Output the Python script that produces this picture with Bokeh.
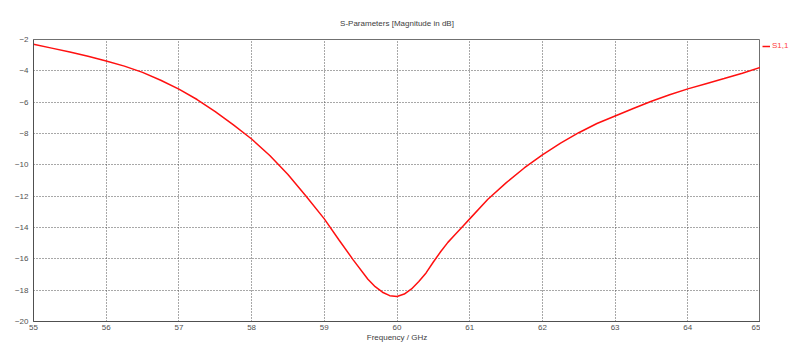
from bokeh.plotting import figure
from bokeh.models import Legend, LegendItem, FixedTicker, Range1d
from bokeh.layouts import row
from bokeh.embed import file_html
from bokeh.resources import INLINE

freq = [55.0, 55.25, 55.5, 55.75, 56.0, 56.25, 56.5, 56.75, 57.0, 57.25, 57.5, 57.75,
        58.0, 58.25, 58.5, 58.75, 59.0, 59.2, 59.4, 59.6, 59.7, 59.8, 59.9, 60.0,
        60.1, 60.2, 60.3, 60.4, 60.5, 60.6, 60.7, 60.8, 60.9, 61.0, 61.25, 61.5,
        61.75, 62.0, 62.25, 62.5, 62.75, 63.0, 63.25, 63.5, 63.75, 64.0, 64.25, 64.5,
        64.75, 65.0]
s11 = [-2.30, -2.55, -2.80, -3.07, -3.37, -3.70, -4.10, -4.60, -5.17, -5.83, -6.60, -7.45,
       -8.35, -9.40, -10.62, -12.00, -13.45, -14.78, -16.08, -17.30, -17.78, -18.13, -18.35, -18.40,
       -18.25, -17.92, -17.45, -16.90, -16.20, -15.55, -14.95, -14.45, -13.95, -13.45, -12.20, -11.15,
       -10.20, -9.36, -8.62, -7.95, -7.36, -6.88, -6.40, -5.94, -5.53, -5.15, -4.82, -4.49,
       -4.15, -3.78]

x_ticks = [55, 56, 57, 58, 59, 60, 61, 62, 63, 64, 65]
y_ticks = [-20, -18, -16, -14, -12, -10, -8, -6, -4, -2]

title_text = "S-Parameters [Magnitude in dB]"
x_label = "Frequency / GHz"
series_name = "S1,1"

FONT = "Liberation Sans"
FS = "8px"
TXT = "#404040"
LINE_COLOR = "#ff1010"

p = figure(width=760, height=344, x_range=(55, 65), y_range=(-20, -2),
           output_backend="svg", toolbar_location=None,
           min_border_left=33, min_border_right=0, min_border_top=39, min_border_bottom=22)
p.background_fill_color = "white"
p.border_fill_color = "white"
p.outline_line_color = "#707070"
p.outline_line_width = 1

p.title.text = title_text
p.title.align = "center"
p.title.text_font = FONT
p.title.text_font_size = FS
p.title.text_font_style = "normal"
p.title.text_color = TXT
p.title.standoff = 24

for ax in (p.xaxis[0], p.yaxis[0]):
    ax.major_tick_out = 0
    ax.major_tick_in = 0
    ax.minor_tick_out = 0
    ax.minor_tick_in = 0
    ax.axis_line_color = "#505050"
    ax.major_label_text_font = FONT
    ax.major_label_text_font_size = FS
    ax.major_label_text_color = "#505050"
p.xaxis[0].major_label_standoff = 3
p.yaxis[0].major_label_standoff = 5
p.xaxis[0].ticker = FixedTicker(ticks=x_ticks)
p.yaxis[0].ticker = FixedTicker(ticks=y_ticks)
p.xaxis[0].axis_label = x_label
p.xaxis[0].axis_label_standoff = 0
p.xaxis[0].axis_label_text_font = FONT
p.xaxis[0].axis_label_text_font_size = FS
p.xaxis[0].axis_label_text_font_style = "normal"
p.xaxis[0].axis_label_text_color = TXT

for g in (p.xgrid[0], p.ygrid[0]):
    g.grid_line_color = "#505050"
    g.grid_line_dash = "1 2"
    g.grid_line_width = 1

r = p.line(freq, s11, line_color=LINE_COLOR, line_width=1.5)

# small side panel holding the legend (outside the main frame)
q = figure(width=29, height=344, output_backend="svg", toolbar_location=None,
           x_range=Range1d(0, 1), y_range=Range1d(0, 1),
           x_axis_type=None, y_axis_type=None,
           min_border_left=0, min_border_right=0, min_border_top=39, min_border_bottom=0)
q.title = None
q.outline_line_color = None
q.xgrid.visible = False
q.ygrid.visible = False
q.background_fill_color = "white"
q.border_fill_color = "white"
# same series, outside this panel's ranges: only its legend swatch shows
proxy = q.line(freq, s11, line_color=LINE_COLOR, line_width=1.5)

legend = Legend(items=[LegendItem(label=series_name, renderers=[proxy])],
                location="top_left", margin=2, padding=0, spacing=0,
                glyph_width=8, glyph_height=8, label_standoff=2, label_height=8,
                label_width=0,
                label_text_font=FONT, label_text_font_size=FS,
                label_text_color="#ff4040", background_fill_alpha=0,
                border_line_alpha=0)
q.add_layout(legend)

layout = row(p, q, spacing=0)
open("out.html", "w").write(file_html(layout, INLINE))
